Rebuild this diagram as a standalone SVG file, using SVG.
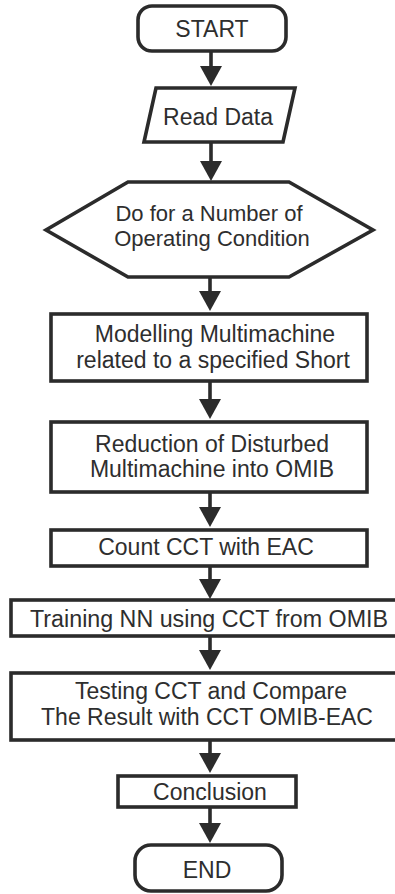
<svg xmlns="http://www.w3.org/2000/svg" width="395" height="894" viewBox="0 0 395 894">
<style>
.s{fill:#fff;stroke:#2b2b2b;stroke-width:3.6}
.t{font-family:"Liberation Sans",Arial,sans-serif;font-size:23px;fill:#2e2e2e;text-anchor:middle}
.h{font-size:22px}
.c{stroke:#2b2b2b;stroke-width:3.6;fill:none}
</style>
<defs>
<marker id="ah" markerUnits="userSpaceOnUse" markerWidth="22" markerHeight="24" viewBox="0 -12 22 24" refX="0" refY="0" orient="auto">
<path d="M0,-11 L20,0 L0,11 z" fill="#2b2b2b"/>
</marker>
</defs>
<rect width="395" height="894" fill="#fff"/>
<g id="connectors">
<line class="c" x1="211" y1="51" x2="211" y2="66" marker-end="url(#ah)"/>
<line class="c" x1="211" y1="142" x2="211" y2="161" marker-end="url(#ah)"/>
<line class="c" x1="210" y1="277" x2="210" y2="291" marker-end="url(#ah)"/>
<line class="c" x1="210" y1="381" x2="210" y2="399" marker-end="url(#ah)"/>
<line class="c" x1="210" y1="492" x2="210" y2="507" marker-end="url(#ah)"/>
<line class="c" x1="210" y1="566" x2="210" y2="579" marker-end="url(#ah)"/>
<line class="c" x1="210" y1="636" x2="210" y2="650" marker-end="url(#ah)"/>
<line class="c" x1="210" y1="740" x2="210" y2="753" marker-end="url(#ah)"/>
<line class="c" x1="210" y1="807" x2="210" y2="823" marker-end="url(#ah)"/>
</g>
<g id="start">
<rect class="s" x="138" y="6" width="148" height="45" rx="14"/>
<text class="t" x="212" y="37">START</text>
</g>
<g id="read">
<polygon class="s" points="156,88 295,88 283,142 144,142"/>
<text class="t" x="218" y="125">Read Data</text>
</g>
<g id="loop">
<polygon class="s" points="128,182 289,182 373,230 289,277 128,277 46,230"/>
<text class="t h" x="209" y="221">Do for a Number of</text>
<text class="t h" x="212" y="246">Operating Condition</text>
</g>
<g id="model">
<rect class="s" x="51" y="314" width="316" height="67"/>
<text class="t" x="215" y="342">Modelling Multimachine</text>
<text class="t" x="213" y="368">related to a specified Short</text>
</g>
<g id="reduce">
<rect class="s" x="51" y="422" width="316" height="70"/>
<text class="t" x="212" y="452">Reduction of Disturbed</text>
<text class="t" x="212" y="477">Multimachine into OMIB</text>
</g>
<g id="count">
<rect class="s" x="51" y="530" width="316" height="36"/>
<text class="t" x="206" y="555">Count CCT with EAC</text>
</g>
<g id="train">
<rect class="s" x="11" y="600" width="395" height="36"/>
<text class="t" x="209" y="627" textLength="358" lengthAdjust="spacingAndGlyphs">Training NN using CCT from OMIB</text>
</g>
<g id="test">
<rect class="s" x="11" y="673" width="395" height="67"/>
<text class="t" x="211" y="699">Testing CCT and Compare</text>
<text class="t" x="207" y="725">The Result with CCT OMIB-EAC</text>
</g>
<g id="conclusion">
<rect class="s" x="118" y="776" width="178" height="31"/>
<text class="t" x="210" y="800">Conclusion</text>
</g>
<g id="end">
<rect class="s" x="135" y="845" width="147" height="46" rx="16"/>
<text class="t" x="207" y="878">END</text>
</g>
</svg>
